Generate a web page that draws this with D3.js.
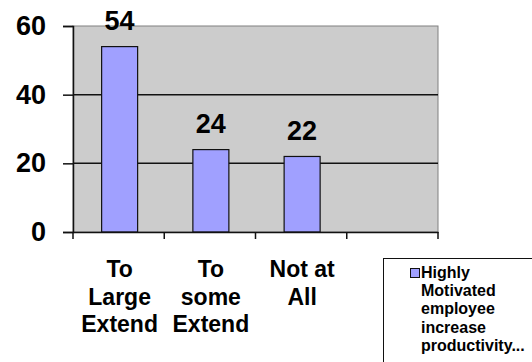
<html>
<head>
<script src="https://d3js.org/d3.v7.min.js"></script>
<style>
  body { margin: 0; background: #fff; }
  text { font-family: "Liberation Sans", Arial, sans-serif; font-weight: bold; }
</style>
</head>
<body>
<script>

var categories = ["To Large Extend", "To some Extend", "Not at All", ""];
var values = [54, 24, 22, null];
var labelLines = [["To", "Large", "Extend"], ["To", "some", "Extend"], ["Not at", "All"], []];
var yTicks = [0, 20, 40, 60];
var legendLines = ["Highly", "Motivated", "employee", "increase", "productivity..."];

var W = 532, H = 362;
var mLeft = 73, mRight = 438, mTop = 26, mBottom = 232;

var svg = d3.select("body").append("svg")
  .attr("width", W)
  .attr("height", H);

var x = d3.scaleBand()
  .domain(categories.map((d, i) => i))
  .range([mLeft, mRight])
  .paddingInner(0)
  .paddingOuter(0);

var y = d3.scaleLinear()
  .domain([0, 60])
  .range([mBottom, mTop]);

// plot background
svg.append("rect")
  .attr("x", mLeft)
  .attr("y", mTop)
  .attr("width", mRight - mLeft)
  .attr("height", mBottom - mTop)
  .attr("fill", "#cccccc")
  .attr("stroke", "#808080")
  .attr("stroke-width", 1);

// gridlines
svg.selectAll("line.grid")
  .data(yTicks.filter(d => d > 0 && d < 60))
  .enter().append("line")
  .attr("class", "grid")
  .attr("x1", mLeft)
  .attr("x2", mRight)
  .attr("y1", d => y(d))
  .attr("y2", d => y(d))
  .attr("stroke", "#111")
  .attr("stroke-width", 1.5);

// bars
var barW = 36;
var barData = values.map((v, i) => ({v: v, i: i})).filter(d => d.v != null);
svg.selectAll("rect.bar")
  .data(barData)
  .enter().append("rect")
  .attr("class", "bar")
  .attr("x", d => x(d.i) + x.bandwidth() / 2 - barW / 2 + 1)
  .attr("y", d => y(d.v))
  .attr("width", barW)
  .attr("height", d => mBottom - y(d.v))
  .attr("fill", "#a0a0ff")
  .attr("stroke", "#111")
  .attr("stroke-width", 1.2);

// value labels
svg.selectAll("text.val")
  .data(barData)
  .enter().append("text")
  .attr("class", "val")
  .attr("x", d => x(d.i) + x.bandwidth() / 2 + 1)
  .attr("y", d => y(d.v) - 16.5)
  .attr("text-anchor", "middle")
  .attr("font-size", 27)
  .attr("fill", "#000")
  .text(d => d.v);

// y axis
var yAxis = d3.axisLeft(y).tickValues(yTicks).tickSize(10).tickPadding(17);
var gy = svg.append("g")
  .attr("transform", "translate(" + mLeft + ",0)")
  .call(yAxis);
gy.select(".domain").attr("stroke", "#111").attr("stroke-width", 1.5);
gy.selectAll(".tick line").attr("stroke", "#111").attr("stroke-width", 1.5);
gy.selectAll(".tick text")
  .attr("font-size", 27)
  .attr("font-family", "Liberation Sans, Arial, sans-serif")
  .attr("font-weight", "bold")
  .attr("fill", "#000");

// x axis
var xAxis = d3.axisBottom(x).tickValues([]).tickSize(0);
var gx = svg.append("g")
  .attr("transform", "translate(0," + mBottom + ")")
  .call(xAxis);
gx.select(".domain").attr("stroke", "#111").attr("stroke-width", 1.5);

// category separator ticks
var edges = categories.map((d, i) => x(i)).concat([mRight]);
svg.selectAll("line.xtick")
  .data(edges)
  .enter().append("line")
  .attr("class", "xtick")
  .attr("x1", d => d)
  .attr("x2", d => d)
  .attr("y1", mBottom)
  .attr("y2", mBottom + 7)
  .attr("stroke", "#111")
  .attr("stroke-width", 1.5);

// category labels
svg.selectAll("g.cat")
  .data(labelLines)
  .enter().append("g")
  .attr("class", "cat")
  .each(function(lines, i) {
    var g = d3.select(this);
    lines.forEach(function(t, j) {
      g.append("text")
        .attr("x", x(i) + x.bandwidth() / 2 + 1)
        .attr("y", 277 + j * 27.5)
        .attr("text-anchor", "middle")
        .attr("font-size", 23)
        .attr("fill", "#000")
        .text(t);
    });
  });

// legend
svg.append("rect")
  .attr("x", 383.5)
  .attr("y", 258.5)
  .attr("width", 160)
  .attr("height", 120)
  .attr("fill", "#fff")
  .attr("stroke", "#111")
  .attr("stroke-width", 1);
svg.append("rect")
  .attr("x", 410.5)
  .attr("y", 268.5)
  .attr("width", 9)
  .attr("height", 9)
  .attr("fill", "#a0a0ff")
  .attr("stroke", "#111")
  .attr("stroke-width", 1);
svg.selectAll("text.leg")
  .data(legendLines)
  .enter().append("text")
  .attr("class", "leg")
  .attr("x", 421)
  .attr("y", (d, i) => 278 + i * 18.2)
  .attr("font-size", 16)
  .attr("fill", "#000")
  .text(d => d);

</script>
</body>
</html>
